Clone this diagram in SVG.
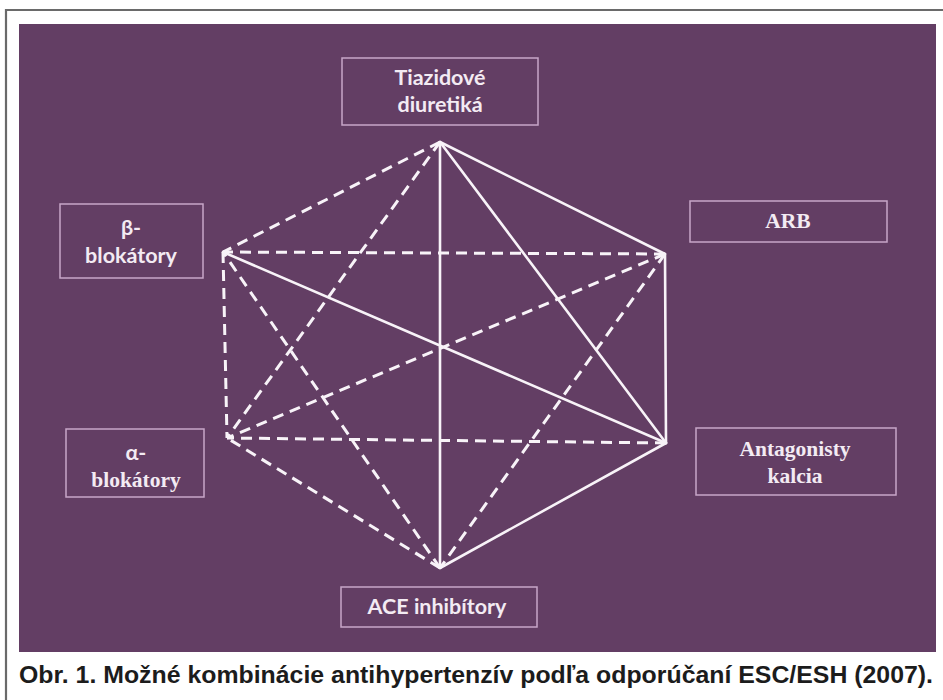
<svg xmlns="http://www.w3.org/2000/svg" width="943" height="700" viewBox="0 0 943 700">
<style>
.bg{fill:#633e64}
.frame{stroke:#6a6a6a;stroke-width:2.2;fill:none}
.box{fill:none;stroke:#c7a6c8;stroke-width:1.5}
.sans{font-family:Lato,"Open Sans","Liberation Sans",sans-serif;font-weight:700;font-size:21.5px;fill:#f3ebf3;text-anchor:middle}
.serif{font-family:"Liberation Serif","DejaVu Serif",serif;font-weight:700;font-size:21.5px;fill:#f3ebf3;text-anchor:middle}
.solid{stroke:#f8f3f8;stroke-width:2.6;fill:none;stroke-linecap:round}
.dash{stroke:#f8f3f8;stroke-width:3;fill:none;stroke-dasharray:11 7}
.cap{font-family:"Liberation Sans",Arial,sans-serif;font-weight:700;font-size:24px;fill:#1c1c1c}
</style>
<rect width="943" height="700" fill="#ffffff"/>
<path class="frame" d="M6,700 V10 H943"/>
<rect class="bg" x="19" y="24" width="917" height="628"/>
<g id="connectors">
  <line class="solid" x1="440" y1="142" x2="665" y2="254"/>
  <line class="solid" x1="440" y1="142" x2="666" y2="443"/>
  <line class="solid" x1="440" y1="142" x2="440" y2="568"/>
  <line class="solid" x1="665" y1="254" x2="666" y2="443"/>
  <line class="solid" x1="666" y1="443" x2="440" y2="568"/>
  <line class="solid" x1="223" y1="252" x2="666" y2="443"/>
  <line class="dash" x1="440" y1="142" x2="223" y2="252"/>
  <line class="dash" x1="440" y1="142" x2="227" y2="438"/>
  <line class="dash" x1="665" y1="254" x2="440" y2="568"/>
  <line class="dash" x1="665" y1="254" x2="223" y2="252"/>
  <line class="dash" x1="665" y1="254" x2="227" y2="438"/>
  <line class="dash" x1="666" y1="443" x2="227" y2="438"/>
  <line class="dash" x1="440" y1="568" x2="223" y2="252"/>
  <line class="dash" x1="440" y1="568" x2="227" y2="438"/>
  <line class="dash" x1="223" y1="252" x2="227" y2="438"/>
</g>
<g id="tiazidove">
  <rect class="box" x="342" y="58" width="196" height="67"/>
  <text class="sans" x="440" y="85">Tiazidové</text>
  <text class="sans" x="440" y="112">diuretiká</text>
</g>
<g id="beta">
  <rect class="box" x="60" y="204" width="143" height="74"/>
  <text class="sans" x="131" y="235">β-</text>
  <text class="sans" x="131" y="263">blokátory</text>
</g>
<g id="arb">
  <rect class="box" x="690" y="201" width="197" height="41"/>
  <text class="serif" x="788" y="228">ARB</text>
</g>
<g id="alpha">
  <rect class="box" x="66" y="429" width="138" height="68"/>
  <text class="sans" x="136" y="460">α-</text>
  <text class="serif" x="136" y="487">blokátory</text>
</g>
<g id="antagonisty">
  <rect class="box" x="696" y="428" width="200" height="67"/>
  <text class="serif" x="795" y="456">Antagonisty</text>
  <text class="serif" x="795" y="483">kalcia</text>
</g>
<g id="ace">
  <rect class="box" x="341" y="587" width="196" height="40"/>
  <text class="sans" x="437" y="614">ACE inhibítory</text>
</g>
<text class="cap" x="19" y="683" textLength="914" lengthAdjust="spacingAndGlyphs">Obr. 1. Možné kombinácie antihypertenzív podľa odporúčaní ESC/ESH (2007).</text>
</svg>
